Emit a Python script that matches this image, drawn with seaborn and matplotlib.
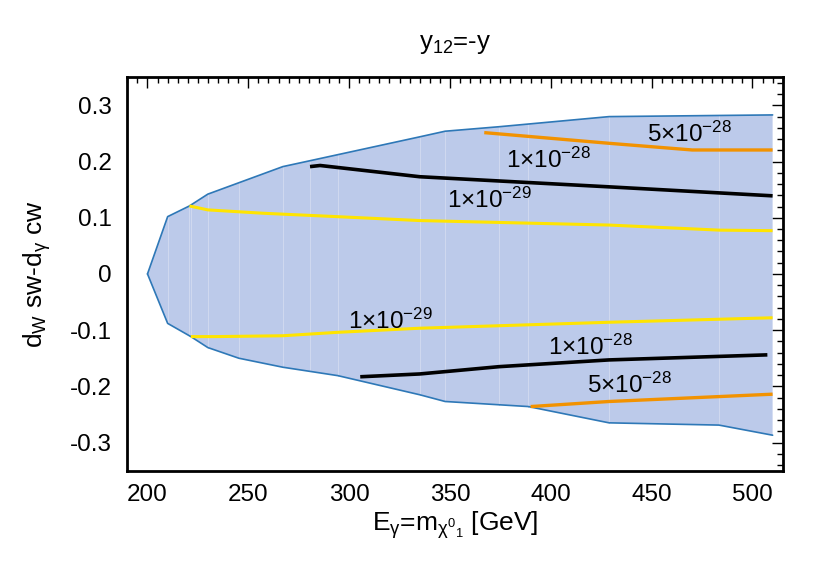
import numpy as np
import pandas as pd
import matplotlib
matplotlib.use("Agg")
import matplotlib.pyplot as plt
import seaborn as sns
from matplotlib.ticker import MultipleLocator, FuncFormatter

# ---- data ----
upper_x = [200, 210, 220.8, 229.9, 267.1, 280.6, 335, 347.6, 374.4, 428.9, 510]
upper_y = [0.0, 0.102, 0.121, 0.142, 0.191, 0.2015, 0.244, 0.254, 0.262, 0.280, 0.283]
lower_x = [200, 210, 221.5, 229.9, 245.3, 267.1, 294.4, 335, 347.6, 388.8, 428.9, 483.4, 510]
lower_y = [0.0, -0.088, -0.1115, -0.131, -0.150, -0.166, -0.181, -0.215, -0.227, -0.236, -0.265, -0.269, -0.287]

yel_up_x = [220.8, 229.9, 257.4, 293.8, 335, 428.9, 483.4, 510]
yel_up_y = [0.121, 0.114, 0.108, 0.102, 0.095, 0.087, 0.078, 0.077]
yel_lo_x = [221.5, 234, 267.1, 293.8, 335, 428.9, 510]
yel_lo_y = [-0.1115, -0.1115, -0.110, -0.104, -0.0966, -0.086, -0.078]

blk_up_x = [280.6, 285.6, 335, 428.9, 510]
blk_up_y = [0.191, 0.193, 0.173, 0.155, 0.139]
blk_lo_x = [305.5, 335, 374.4, 428.9, 507.4]
blk_lo_y = [-0.183, -0.178, -0.165, -0.153, -0.144]

org_up_x = [367, 428.9, 470.2, 510]
org_up_y = [0.2515, 0.2325, 0.2206, 0.2206]
org_lo_x = [390, 428.9, 510]
org_lo_y = [-0.236, -0.227, -0.214]

labels = ["5×10$^{-28}$", "1×10$^{-28}$", "1×10$^{-29}$",
          "1×10$^{-29}$", "1×10$^{-28}$", "5×10$^{-28}$"]
label_x = [469, 399, 369.5, 320.4, 419.5, 439]
label_y = [0.248, 0.202, 0.131, -0.084, -0.131, -0.199]

# ---- style ----
sns.set_style("white")
plt.rcParams["font.family"] = ["Liberation Sans", "DejaVu Sans"]
plt.rcParams["mathtext.default"] = "regular"
plt.rcParams["text.color"] = "black"
plt.rcParams["axes.labelcolor"] = "black"
FS = 17.5

fig = plt.figure(figsize=(8.3, 5.81), dpi=100)
ax = fig.add_axes([0.1534, 0.190, 0.7896, 0.677])

# filled allowed region
poly_x = list(upper_x) + list(lower_x[::-1])
poly_y = list(upper_y) + list(lower_y[::-1])
ax.fill(poly_x, poly_y, color="#bccaea", lw=0, zorder=1)

# faint strip seams inside the fill
seam_x = sorted(set(upper_x[1:-1]) | set(lower_x[1:-1]))
for sx in seam_x:
    ax.plot([sx, sx], [np.interp(sx, lower_x, lower_y), np.interp(sx, upper_x, upper_y)],
            color="#d0d9f0", lw=0.7, zorder=1.5)

# boundary
bnd = pd.DataFrame({"x": upper_x, "y": upper_y})
sns.lineplot(data=bnd, x="x", y="y", ax=ax, color="#2e78b7", lw=1.2, sort=False, estimator=None, zorder=3)
bnd2 = pd.DataFrame({"x": lower_x, "y": lower_y})
sns.lineplot(data=bnd2, x="x", y="y", ax=ax, color="#2e78b7", lw=1.2, sort=False, estimator=None, zorder=3)

def curve(xs, ys, color, lw):
    d = pd.DataFrame({"x": xs, "y": ys})
    sns.lineplot(data=d, x="x", y="y", ax=ax, color=color, lw=lw, sort=False,
                 estimator=None, zorder=4, solid_capstyle="butt")

curve(yel_up_x, yel_up_y, "#ffe400", 2.2)
curve(yel_lo_x, yel_lo_y, "#ffe400", 2.2)
curve(blk_up_x, blk_up_y, "#000000", 2.6)
curve(blk_lo_x, blk_lo_y, "#000000", 2.6)
curve(org_up_x, org_up_y, "#f29200", 2.4)
curve(org_lo_x, org_lo_y, "#f29200", 2.4)

for t, lx, ly in zip(labels, label_x, label_y):
    ax.text(lx, ly, t, fontsize=FS, ha="center", va="center", zorder=5, color="black")

ax.set_xlim(190, 515)
ax.set_ylim(-0.35, 0.35)
ax.xaxis.set_major_locator(MultipleLocator(50))
ax.xaxis.set_minor_locator(MultipleLocator(5))
ax.yaxis.set_major_locator(MultipleLocator(0.1))
ax.yaxis.set_minor_locator(MultipleLocator(0.02))
ax.xaxis.set_major_formatter(FuncFormatter(lambda v, p: f"{v:.0f}"))
def yfmt(v, p):
    if abs(v) < 1e-9:
        return "0"
    return f"{v:.1f}".replace("\u2212", "-")
ax.yaxis.set_major_formatter(FuncFormatter(yfmt))
ax.tick_params(which="both", direction="in", top=True, right=True, colors="black",
               labelsize=FS, width=1.0)
ax.tick_params(axis="y", which="major", length=8, pad=11)
ax.tick_params(axis="x", which="major", length=8, pad=10)
ax.tick_params(which="minor", length=4)
for s in ax.spines.values():
    s.set_linewidth(2.0)
    s.set_color("black")

ax.set_xlabel(r"$E_{\gamma}$=$m_{\chi^{0}{}_{1}}$ [GeV]", fontsize=19, labelpad=2, color="black")
ax.set_ylabel(r"$d_{W}$ sw-$d_{\gamma}$ cw", fontsize=19, labelpad=12, color="black")
ax.set_title(r"$y_{12}$=-y", fontsize=18.5, pad=20, color="black")

fig.savefig("out.png", dpi=100, facecolor="white")
